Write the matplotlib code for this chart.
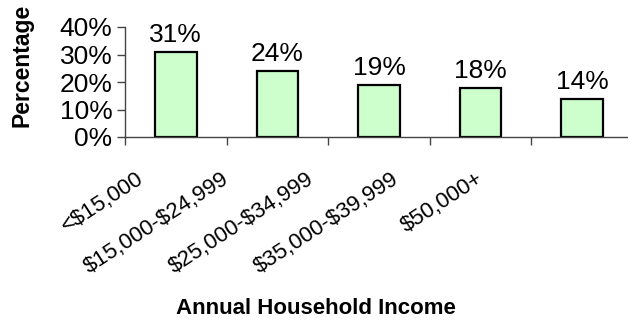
import numpy as np
import matplotlib
matplotlib.use("Agg")
import matplotlib.pyplot as plt
from matplotlib.ticker import FuncFormatter

# データ（読み取り値）
categories = ["<$15,000", "$15,000-$24,999", "$25,000-$34,999", "$35,000-$39,999", "$50,000+"]
percentages = [31, 24, 19, 18, 14]
y_ticks = [0, 10, 20, 30, 40]

plt.rcParams["font.family"] = ["Liberation Sans", "DejaVu Sans"]
plt.rcParams["text.parse_math"] = False

fig = plt.figure(figsize=(6.28, 3.2), dpi=100)
ax = fig.add_axes([125 / 628, 1 - 137 / 320, 508 / 628, 110 / 320])

x = np.arange(len(categories))
bars = ax.bar(x, percentages, width=0.41, color="#CCFFCC", edgecolor="black", linewidth=1.6)

# 棒の上に値ラベル
for xi, v in zip(x, percentages):
    ax.annotate(f"{v}%", (xi, v), xytext=(0, 7), textcoords="offset points",
                ha="center", va="baseline", fontsize=19)

ax.set_xlim(-0.5, len(categories) - 0.5)
ax.set_ylim(0, 40)
ax.set_yticks(y_ticks)
ax.yaxis.set_major_formatter(FuncFormatter(lambda v, p: f"{int(v)}%"))
ax.tick_params(axis="y", labelsize=19, length=6, width=1, color="#444444", pad=3)

# カテゴリ境界に目盛り
ax.set_xticks(np.arange(len(categories) + 1) - 0.5)
ax.set_xticklabels([])
ax.tick_params(axis="x", length=6, width=1, color="#444444")

for s in ["top", "right"]:
    ax.spines[s].set_visible(False)
for s in ["left", "bottom"]:
    ax.spines[s].set_color("#444444")
    ax.spines[s].set_linewidth(1)

# 斜めのカテゴリラベル（Excel風の配置）
label_x = np.arange(len(categories)) * 0.837 - 0.392
trans = ax.get_xaxis_transform()
for lx, name in zip(label_x, categories):
    ax.text(lx, -0.287, name, transform=trans, ha="right", va="top",
            rotation=33, rotation_mode="anchor", fontsize=16, clip_on=False)

fig.text(22 / 628, 1 - 65 / 320, "Percentage", rotation=90, ha="center", va="center",
         fontsize=16.5, fontweight="bold")
fig.text(316 / 628, 1 - 309 / 320, "Annual Household Income", ha="center", va="center",
         fontsize=16, fontweight="bold")

fig.savefig("out.png", dpi=100)
